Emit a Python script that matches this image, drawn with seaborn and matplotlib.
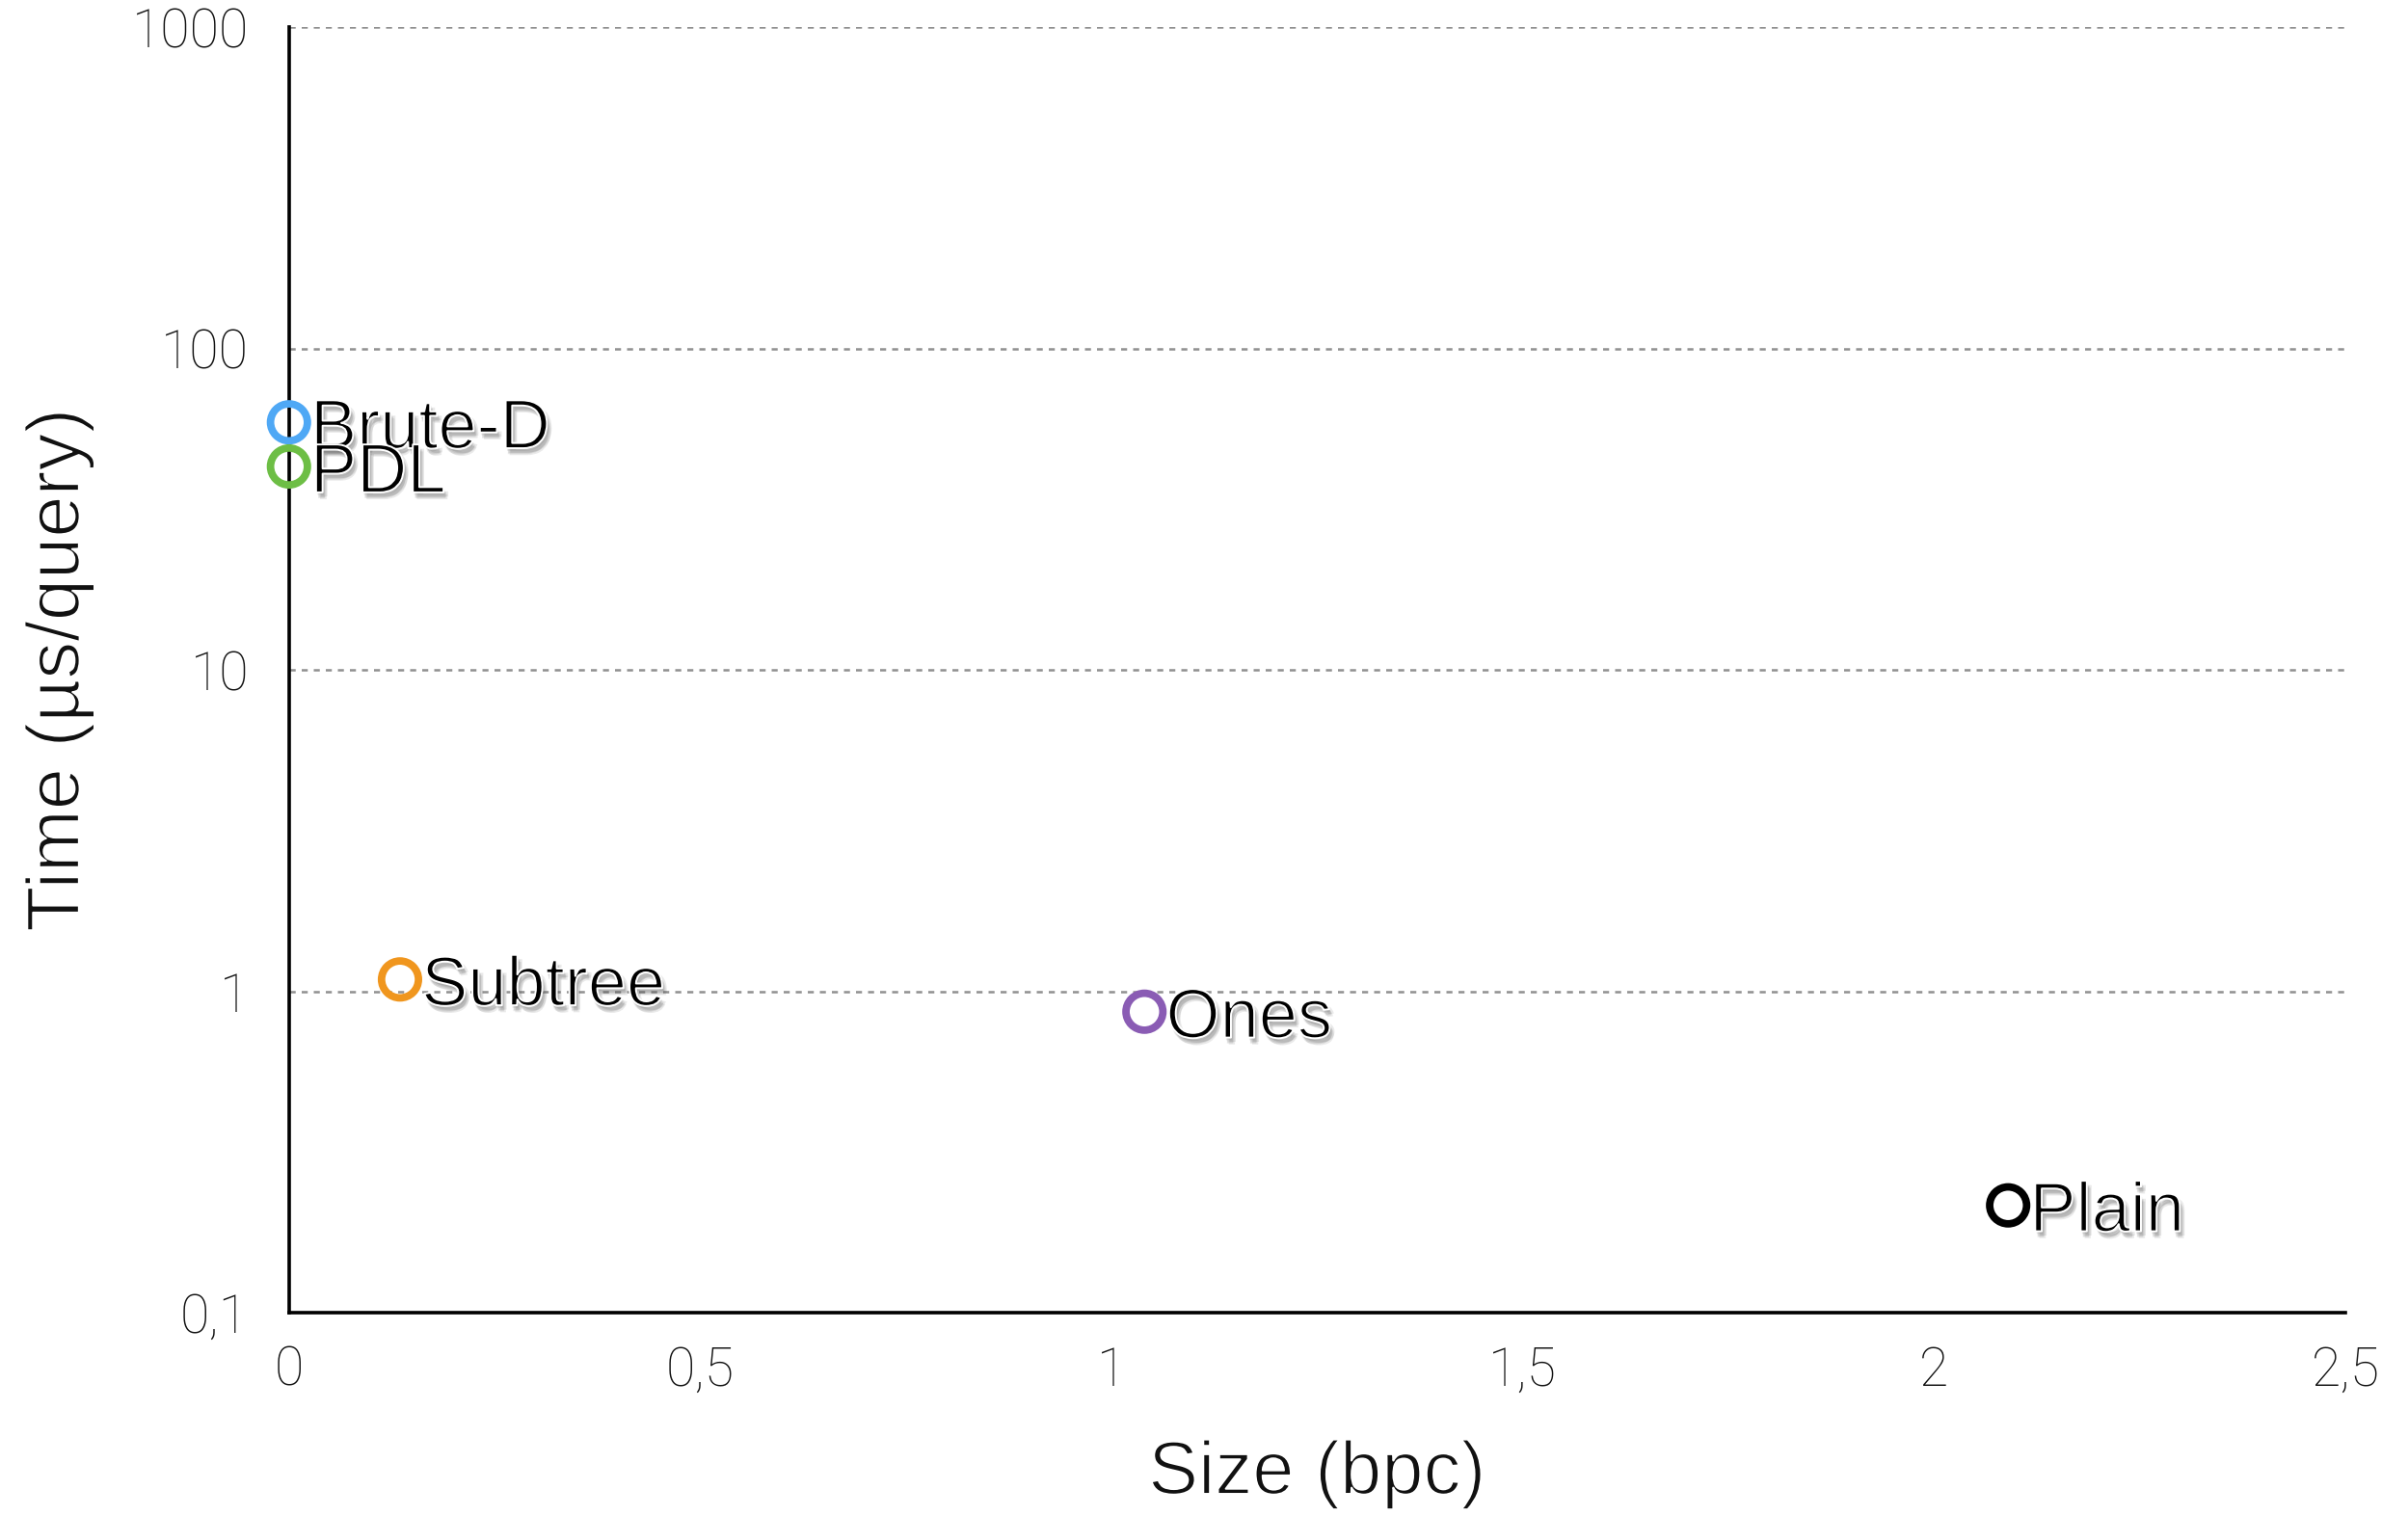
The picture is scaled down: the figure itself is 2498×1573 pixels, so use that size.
import matplotlib
matplotlib.use('Agg')
import matplotlib.pyplot as plt
import matplotlib.patheffects as pe
import seaborn as sns
import pandas as pd

# values
methods = ['Brute-D', 'PDL', 'Subtree', 'Ones', 'Plain']
size_bpc = [0.0, 0.0, 0.135, 1.04, 2.09]
time_us = [59, 43, 1.09, 0.865, 0.216]
colors = ['#4FA8F5', '#6DBE45', '#F0961E', '#8A5CB4', '#000000']

yticks = [0.1, 1, 10, 100, 1000]
ytick_labels = ['0,1', '1', '10', '100', '1000']
xticks = [0, 0.5, 1, 1.5, 2, 2.5]
xtick_labels = ['0', '0,5', '1', '1,5', '2', '2,5']

df = pd.DataFrame({'method': methods, 'size': size_bpc, 'time': time_us})

sns.set_style('white')
plt.rcParams['font.family'] = ['Roboto', 'DejaVu Sans']
plt.rcParams['font.weight'] = 'light'

label_font = ['Liberation Sans', 'DejaVu Sans']
# thin the glyphs a little with a white outline drawn over the fill
thin = [pe.Normal(), pe.Stroke(linewidth=0.7, foreground='white')]

fig = plt.figure(figsize=(12.49, 7.865), dpi=200)
ax = fig.add_axes([0.120, 0.134, 0.854, 0.848])

sns.scatterplot(data=df, x='size', y='time', hue='method', palette=colors,
                s=190, linewidth=2.8, legend=False, ax=ax, clip_on=False, zorder=5)
coll = ax.collections[0]
coll.set_edgecolor(colors)
coll.set_facecolor('none')

ax.set_yscale('log')
ax.set_ylim(0.1, 1000)
ax.set_xlim(0, 2.5)
ax.set_yticks(yticks)
ax.set_yticklabels(ytick_labels)
ax.set_xticks(xticks)
ax.set_xticklabels(xtick_labels)
ax.minorticks_off()
ax.tick_params(axis='y', length=0, pad=15, labelsize=20, labelcolor='#111111')
ax.tick_params(axis='x', length=0, pad=12, labelsize=20, labelcolor='#111111')

ax.grid(axis='y', color='#909090', linestyle=(0, (2.5, 2.5)), linewidth=0.9)
ax.set_axisbelow(True)
for s in ['top', 'right']:
    ax.spines[s].set_visible(False)
for s in ['left', 'bottom']:
    ax.spines[s].set_color('black')
    ax.spines[s].set_linewidth(1.3)

ax.set_xlabel('Size (bpc)', fontsize=28, labelpad=16, color='#111111',
              family=label_font, fontweight='normal', path_effects=thin)
ax.set_ylabel('Time (µs/query)', fontsize=28, labelpad=14, color='#111111',
              family=label_font, fontweight='normal', path_effects=thin)

# soft drop shadow: a few faint offset copies
shadow = [pe.SimplePatchShadow(offset=o, shadow_rgbFace='#555555', alpha=0.12)
          for o in [(0.5, -1.0), (1.0, -1.8), (1.5, -2.6), (0.8, -2.2), (1.8, -1.6)]]
shadow += thin
for name, xv, yv in zip(methods, size_bpc, time_us):
    ax.annotate(name, (xv, yv), xytext=(8, -3), textcoords='offset points',
                ha='left', va='center', fontsize=26, fontweight='normal', color='black',
                family=label_font, path_effects=shadow, zorder=6)

plt.savefig('out.png', dpi=200)
